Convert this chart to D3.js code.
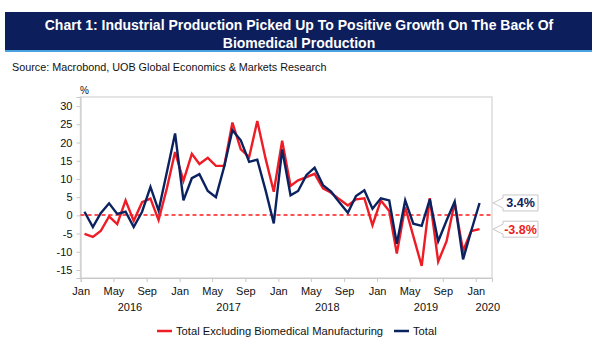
<!DOCTYPE html>
<html><head><meta charset="utf-8">
<script src="https://cdn.jsdelivr.net/npm/d3@7"></script>
<style>body{margin:0;background:#fff;font-family:"Liberation Sans",Arial,sans-serif;}</style>
</head><body><svg id="c" width="600" height="360"></svg>
<script>
const titleLines = ["Chart 1: Industrial Production Picked Up To Positive Growth On The Back Of", "Biomedical Production"];
const sourceText = "Source: Macrobond, UOB Global Economics & Markets Research";
const startMonth = "2016-01";
const totalExBio = [-5.1,-5.9,-4.3,-0.3,-2.4,4.1,-1.5,3.6,4.6,-1.3,7.5,17.4,
  9.5,16.9,14.1,15.8,13.6,13.6,25.5,18.1,16.0,25.9,15.5,6.5,
  20.5,8.1,9.6,10.5,11.4,7.4,6.2,4.4,2.7,4.4,4.7,-2.7,
  4.1,1.2,-10.5,2.3,-5.7,-13.9,4.7,-12.7,-7.1,3.5,-9.8,-4.3,-3.8];
const total = [1.0,-3.2,0.6,3.3,0.4,1.0,-3.2,1.0,7.8,1.3,12.0,22.5,
  4.1,10.2,11.3,6.7,5.0,13.5,23.4,20.6,14.7,15.3,6.8,-2.2,
  18.1,5.5,6.7,11.1,13.1,8.3,6.5,3.5,0.7,5.3,6.9,1.8,
  4.7,4.1,-7.8,4.1,-2.3,-2.9,4.4,-7.1,-1.4,3.8,-12.1,-4.3,3.4];
const yTicks = [30,25,20,15,10,5,0,-5,-10,-15];
const monthLabels = ["Jan","May","Sep"];
const years = [2016,2017,2018,2019,2020];
const seriesNames = ["Total Excluding Biomedical Manufacturing","Total"];
const colors = ["#ee1c25","#0b2260"];

const svg = d3.select("#c");
const font = '"Liberation Sans",Arial,sans-serif';

// banner
svg.append("rect").attr("x",5).attr("y",12).attr("width",587).attr("height",39).attr("fill","#0c1e5b");
svg.append("rect").attr("x",5).attr("y",50).attr("width",587).attr("height",2).attr("fill","#4aa3df");
titleLines.forEach((t,i)=>svg.append("text").attr("x",299).attr("y",30+i*18).attr("text-anchor","middle")
  .attr("fill","#fff").attr("font-family",font).attr("font-weight","bold").attr("font-size",14).text(t));
svg.append("text").attr("x",12).attr("y",71).attr("font-family",font).attr("font-size",10.8).attr("fill","#111").text(sourceText);

const parse = d3.timeParse("%Y-%m-%d");
const t0 = d3.timeParse("%Y-%m")(startMonth);
const dates = total.map((d,i)=>d3.timeDay.offset(d3.timeMonth.offset(t0,i),14));

const L=80.5, R=492, T=97, B=278;
const x = d3.scaleTime().domain([parse("2016-01-01"),parse("2020-03-01")]).range([L+0.2,R]);
const y = d3.scaleLinear().domain([-17.2,32.5]).range([B,T]);

// plot frame
svg.append("rect").attr("x",L).attr("y",T).attr("width",R-L).attr("height",B-T).attr("fill","none").attr("stroke","#dcdcdc").attr("stroke-width",1.5);

// y axis
const ya = svg.append("g").attr("transform",`translate(${L},0)`).call(d3.axisLeft(y).tickValues(yTicks).tickSize(4).tickPadding(4).tickFormat(d=>String(d)));
ya.selectAll("text").attr("font-family",font).attr("font-size",11).attr("fill","#111");
ya.selectAll("line").attr("stroke","#c8c8c8");
ya.select(".domain").attr("stroke","#c8c8c8");
svg.append("text").attr("x",80).attr("y",94).attr("font-family",font).attr("font-size",10).attr("fill","#111").text("%");

// x axis
const xTickDates = d3.timeMonth.every(4).range(parse("2016-01-01"),parse("2020-01-02"));
const xa = svg.append("g").attr("transform",`translate(0,${B})`).call(d3.axisBottom(x).tickValues(xTickDates).tickSize(4).tickPadding(5)
  .tickFormat(d=>monthLabels[d.getMonth()/4]));
xa.selectAll("text").attr("font-family",font).attr("font-size",11).attr("fill","#111");
xa.selectAll("line").attr("stroke","#c8c8c8");
xa.select(".domain").attr("stroke","#c8c8c8");
years.forEach(yr=>{
  const cx = yr<2020 ? x(new Date(yr,6,1)) : x(new Date(yr,0,1))+12;
  svg.append("text").attr("x",cx).attr("y",311).attr("text-anchor","middle").attr("font-family",font).attr("font-size",11).attr("fill","#111").text(yr);
});

// zero line
const y0 = Math.round(y(0));
svg.append("line").attr("x1",L).attr("x2",R).attr("y1",y0).attr("y2",y0).attr("stroke","#ff1a1a").attr("stroke-width",1.6).attr("stroke-dasharray","4,3");

const line = d3.line().x((d,i)=>x(dates[i])).y(d=>y(d));
[totalExBio,total].forEach((s,k)=>{
  svg.append("path").datum(s).attr("d",line).attr("fill","none").attr("stroke",colors[k]).attr("stroke-width",2.4).attr("stroke-linejoin","miter");
});

// callouts
[[total,colors[1]],[totalExBio,colors[0]]].forEach(([s,c])=>{
  const v = s[s.length-1];
  const ty = y(v);
  const bx=503, bw=35, bh=16;
  const g = svg.append("g");
  g.append("path").attr("d",`M${R+1},${ty} L${bx},${ty-5} L${bx},${ty-bh/2} L${bx+bw},${ty-bh/2} L${bx+bw},${ty+bh/2} L${bx},${ty+bh/2} L${bx},${ty+5} Z`)
    .attr("fill","#fff").attr("stroke","#c8c8c8").attr("stroke-width",1);
  g.append("text").attr("x",bx+bw/2).attr("y",ty+4.5).attr("text-anchor","middle").attr("font-family",font).attr("font-weight","bold").attr("font-size",12.5).attr("fill",c)
    .text(v.toFixed(1)+"%");
});

// legend
const lg = svg.append("g");
const items = [[seriesNames[0],colors[0],157],[seriesNames[1],colors[1],394]];
items.forEach(([n,c,lx])=>{
  lg.append("line").attr("x1",lx).attr("x2",lx+15).attr("y1",331).attr("y2",331).attr("stroke",c).attr("stroke-width",2.5);
  lg.append("text").attr("x",lx+19).attr("y",335).attr("font-family",font).attr("font-size",11.2).attr("fill","#111").text(n);
});
</script></body></html>
